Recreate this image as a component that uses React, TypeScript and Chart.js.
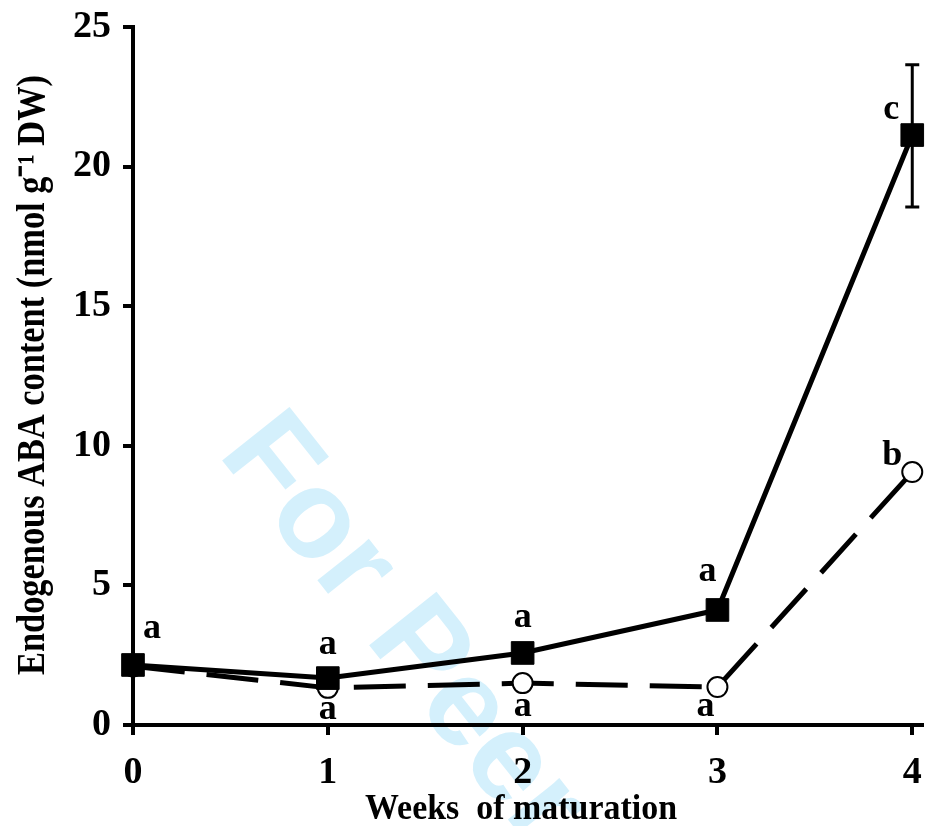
import React, { useEffect, useRef } from "react";
import { Chart, registerables } from "chart.js";

Chart.register(...registerables);

// ---- data ----
const weeks = [0, 1, 2, 3, 4];
const abaMature = [2.15, 1.68, 2.58, 4.12, 21.13]; // filled squares
const abaControl = [2.1, 1.33, 1.5, 1.36, 9.06]; // open circles
const matureErrLow = [null, null, null, null, 18.55];
const matureErrHigh = [null, null, null, null, 23.65];
const matureLetters = ["a", "a", "a", "a", "c"];
const controlLetters = ["", "a", "a", "a", "b"];
const xTickValues = [0, 1, 2, 3, 4];
const yTickValues = [0, 5, 10, 15, 20, 25];
const xTitle = "Weeks  of maturation";
const yTitle = "Endogenous ABA content (nmol g\u207B\u00B9 DW)";
const watermark = "For Peer Review";

// ---- style (pixel offsets of the letter labels from their point) ----
const matureLetterOffsets = [
  [19, -27],
  [0, -24],
  [0, -26],
  [-10, -29],
  [-21, -16],
];
const controlLetterOffsets = [
  [0, 0],
  [0, 31],
  [0, 33],
  [-12, 29],
  [-20, -7],
];

const SERIF = "'Liberation Serif', 'Times New Roman', serif";

const decorPlugin = {
  id: "decor",
  beforeDraw(chart: any) {
    const ctx = chart.ctx;
    ctx.save();
    ctx.fillStyle = "#ffffff";
    ctx.fillRect(0, 0, chart.width, chart.height);
    ctx.translate(217, 454);
    ctx.rotate((51.5 * Math.PI) / 180);
    ctx.font = "bold 125px 'Liberation Sans', Arial, sans-serif";
    ctx.fillStyle = "rgb(212,240,252)";
    ctx.textAlign = "left";
    ctx.textBaseline = "alphabetic";
    ctx.fillText(watermark, 0, 0);
    ctx.restore();
  },
  afterDatasetsDraw(chart: any) {
    const ctx = chart.ctx;
    const xs = chart.scales.x;
    const ys = chart.scales.y;
    ctx.save();
    ctx.strokeStyle = "#000";
    ctx.lineWidth = 3;
    weeks.forEach((w, i) => {
      const lo = matureErrLow[i];
      const hi = matureErrHigh[i];
      if (lo == null || hi == null) return;
      const px = xs.getPixelForValue(w);
      const y1 = ys.getPixelForValue(lo);
      const y2 = ys.getPixelForValue(hi);
      ctx.beginPath();
      ctx.moveTo(px, y1);
      ctx.lineTo(px, y2);
      ctx.moveTo(px - 7, y1);
      ctx.lineTo(px + 7, y1);
      ctx.moveTo(px - 7, y2);
      ctx.lineTo(px + 7, y2);
      ctx.stroke();
    });
    ctx.restore();
  },
  afterDraw(chart: any) {
    const ctx = chart.ctx;
    const xs = chart.scales.x;
    const ys = chart.scales.y;
    ctx.save();
    ctx.fillStyle = "#000";
    ctx.textAlign = "center";
    ctx.textBaseline = "alphabetic";

    // x tick labels (positions from the x scale)
    ctx.font = `bold 38px ${SERIF}`;
    xTickValues.forEach((v) => {
      ctx.fillText(String(v), xs.getPixelForValue(v), xs.top + 58);
    });

    // significance letters
    ctx.font = `bold 36px ${SERIF}`;
    weeks.forEach((w, i) => {
      const px = xs.getPixelForValue(w);
      if (matureLetters[i]) {
        const [dx, dy] = matureLetterOffsets[i];
        ctx.fillText(matureLetters[i], px + dx, ys.getPixelForValue(abaMature[i]) + dy);
      }
      if (controlLetters[i]) {
        const [dx, dy] = controlLetterOffsets[i];
        ctx.fillText(controlLetters[i], px + dx, ys.getPixelForValue(abaControl[i]) + dy);
      }
    });

    // x title
    ctx.font = `bold 36px ${SERIF}`;
    const xw = ctx.measureText(xTitle).width;
    ctx.save();
    ctx.translate(521, 819);
    ctx.scale(312 / xw, 1);
    ctx.fillText(xTitle, 0, 0);
    ctx.restore();

    // y title
    ctx.font = `bold 40px ${SERIF}`;
    const yw = ctx.measureText(yTitle).width;
    ctx.save();
    ctx.translate(44, 375);
    ctx.rotate(-Math.PI / 2);
    ctx.scale(600 / yw, 1);
    ctx.fillText(yTitle, 0, 0);
    ctx.restore();
    ctx.restore();
  },
};

export default function App() {
  const ref = useRef<HTMLCanvasElement | null>(null);

  useEffect(() => {
    document.body.style.margin = "0";
    if (!ref.current) return;
    const gridOpts = {
      display: true,
      drawOnChartArea: false,
      drawTicks: true,
      tickLength: 10,
      tickWidth: 4,
      tickColor: "#000",
      color: "#000",
      lineWidth: 4,
    };
    const chart = new Chart(ref.current, {
      type: "line",
      data: {
        datasets: [
          {
            label: "mature",
            data: weeks.map((w, i) => ({ x: w, y: abaMature[i] })),
            borderColor: "#000",
            borderWidth: 5,
            backgroundColor: "#000",
            pointStyle: "rect",
            pointRadius: 16,
            pointBackgroundColor: "#000",
            pointBorderColor: "#000",
            pointBorderWidth: 1,
            clip: false as any,
          },
          {
            label: "control",
            data: weeks.map((w, i) => ({ x: w, y: abaControl[i] })),
            borderColor: "#000",
            borderWidth: 5,
            borderDash: [52, 22],
            pointStyle: "circle",
            pointRadius: 10,
            pointBackgroundColor: "#fff",
            pointBorderColor: "#000",
            pointBorderWidth: 2,
            clip: false as any,
          },
        ],
      },
      options: {
        responsive: false,
        animation: false,
        devicePixelRatio: 1,
        layout: { autoPadding: false, padding: { top: 27, right: 4, left: 0, bottom: 0 } },
        plugins: {
          legend: { display: false },
          tooltip: { enabled: false },
          title: { display: false },
        },
        scales: {
          x: {
            type: "linear",
            min: 0,
            max: 4.05,
            afterBuildTicks: (s: any) => {
              s.ticks = xTickValues.map((v) => ({ value: v }));
            },
            afterFit: (s: any) => {
              s.height = 101;
            },
            border: { display: true, color: "#000", width: 4 },
            grid: gridOpts,
            ticks: { display: false },
          },
          y: {
            type: "linear",
            min: 0,
            max: 25,
            afterBuildTicks: (s: any) => {
              s.ticks = yTickValues.map((v) => ({ value: v }));
            },
            afterFit: (s: any) => {
              s.width = 133;
            },
            border: { display: true, color: "#000", width: 4 },
            grid: gridOpts,
            ticks: {
              color: "#000",
              font: { family: SERIF, weight: "bold" as const, size: 38, lineHeight: 0.7 },
              padding: 12,
              autoSkip: false,
            },
          },
        },
      },
      plugins: [decorPlugin],
    });
    return () => chart.destroy();
  }, []);

  return (
    <div style={{ width: 926, height: 826, overflow: "hidden" }}>
      <canvas ref={ref} width={926} height={826} style={{ display: "block" }} />
    </div>
  );
}
